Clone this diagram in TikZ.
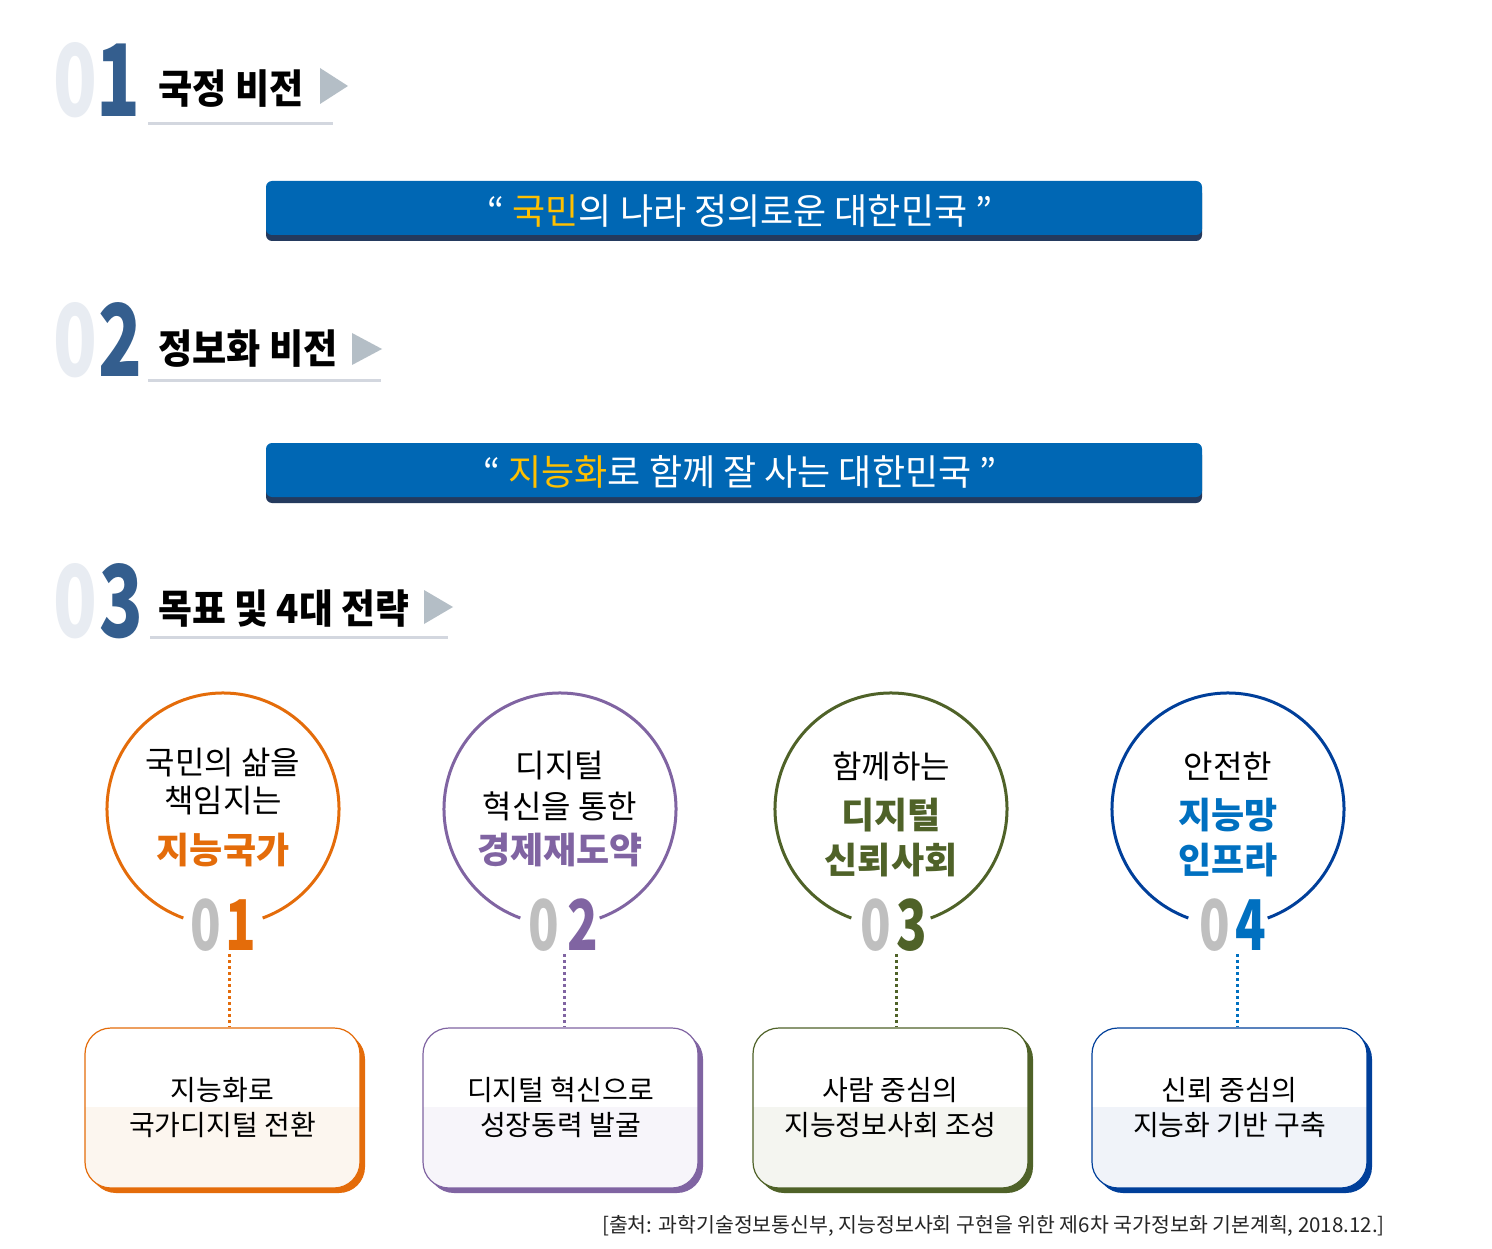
\documentclass[tikz,border=0pt]{standalone}
\usepackage{fontspec}
\setmainfont{Noto Sans CJK KR}
\definecolor{numlight}{HTML}{E8ECF2}
\definecolor{numdark}{HTML}{345E8E}
\definecolor{trigc}{HTML}{B4BEC6}
\definecolor{ulc}{HTML}{D3D7DF}
\definecolor{bblue}{HTML}{0067B4}
\definecolor{bdark}{HTML}{243A5E}
\definecolor{ylw}{HTML}{FFC000}
\definecolor{cOr}{HTML}{E46C0A}
\definecolor{cPu}{HTML}{8064A2}
\definecolor{cGr}{HTML}{4F6228}
\definecolor{cBl}{HTML}{003F9A}
\definecolor{cBt}{HTML}{0070C0}
\definecolor{tOr}{HTML}{FCF6EF}
\definecolor{tPu}{HTML}{F7F5FA}
\definecolor{tGr}{HTML}{F4F5F0}
\definecolor{tBl}{HTML}{F0F3F9}
\definecolor{zgray}{HTML}{BFBFBF}
\newcommand\cnd[2][0.8]{\scalebox{#1}[1]{#2}}
\tikzset{
  bignum/.style={inner sep=0pt, anchor=base, font=\bfseries\fontsize{100}{100}\selectfont},
  cnum/.style={inner sep=0pt, anchor=base, font=\bfseries\fontsize{70}{70}\selectfont},
  title/.style={inner sep=0pt, anchor=west, font=\bfseries\fontsize{40}{40}\selectfont, text=black},
  trig/.style={fill=trigc},
  uline/.style={draw=ulc, line width=3pt},
  bannertext/.style={inner sep=0pt, text=white, font=\fontsize{36}{36}\selectfont},
  ctext/.style={inner sep=0pt, text=black, font=\fontsize{32}{32}\selectfont},
  cbold/.style={inner sep=0pt, font=\bfseries\fontsize{36}{36}\selectfont},
  ring/.style={line width=3pt},
  dotline/.style={line width=3pt, dash pattern=on 3pt off 3pt},
  boxtext/.style={inner sep=0pt, align=center, text=black, font=\fontsize{28}{35}\selectfont},
}
\begin{document}
\begin{tikzpicture}[x=1pt,y=-1pt]
\useasboundingbox (0,0) rectangle (1492,1249);
\fill[white] (0,0) rectangle (1492,1249);

% ---------- header 01
\node[bignum, text=numlight] (h1a) at (75,117) {\cnd[0.72]{0}};
\node[bignum, text=numdark] (h1b) at (118,117) {\cnd[0.72]{1}};
\node[title] (t1) at (158,89) {\cnd[0.93]{국정 비전}};
\fill[trig] (320,68) -- (348,86) -- (320,104) -- cycle;
\draw[uline] (148,124) -- (333,124);

% ---------- banner 1
\fill[bdark, rounded corners=6pt] (266,187) rectangle (1202,241);
\fill[bblue, rounded corners=6pt] (266,181) rectangle (1202,235);
\node[bannertext] (b1) at (740,211) {“ \textcolor{ylw}{국민}의 나라 정의로운 대한민국 ”};

% ---------- header 02
\node[bignum, text=numlight] (h2a) at (75,377) {\cnd[0.72]{0}};
\node[bignum, text=numdark] (h2b) at (120,377) {\cnd[0.72]{2}};
\node[title] (t2) at (158,349) {\cnd[0.93]{정보화 비전}};
\fill[trig] (352,333) -- (382,349) -- (352,365) -- cycle;
\draw[uline] (148,381) -- (381,381);

% ---------- banner 2
\fill[bdark, rounded corners=6pt] (266,449) rectangle (1202,503);
\fill[bblue, rounded corners=6pt] (266,443) rectangle (1202,497);
\node[bannertext] (b2) at (740,472) {“ \textcolor{ylw}{지능화}로 함께 잘 사는 대한민국 ”};

% ---------- header 03
\node[bignum, text=numlight] (h3a) at (75,637) {\cnd[0.72]{0}};
\node[bignum, text=numdark] (h3b) at (121,637) {\cnd[0.72]{3}};
\node[title] (t3) at (158,609) {\cnd[0.92]{목표 및 4대 전략}};
\fill[trig] (424,590) -- (453,607) -- (424,624) -- cycle;
\draw[uline] (150,637) -- (448,637);

% ---------- circles
\coordinate (c1) at (223,809);
\coordinate (c2) at (560,809);
\coordinate (c3) at (891,809);
\coordinate (c4) at (1228,809);
\draw[ring, cOr] (c1) ++(110:116) arc[start angle=110, end angle=430, radius=116];
\draw[ring, cPu] (c2) ++(110:116) arc[start angle=110, end angle=430, radius=116];
\draw[ring, cGr] (c3) ++(110:116) arc[start angle=110, end angle=430, radius=116];
\draw[ring, cBl] (c4) ++(110:116) arc[start angle=110, end angle=430, radius=116];

\node[ctext] (l11) at (223,763) {국민의 삶을};
\node[ctext] (l12) at (223,801) {책임지는};
\node[cbold, text=cOr] (l13) at (223,850) {지능국가};

\node[ctext] (l21) at (560,766) {디지털};
\node[ctext] (l22) at (560,806) {혁신을 통한};
\node[cbold, text=cPu] (l23) at (560,850) {경제재도약};

\node[ctext] (l31) at (891,766) {함께하는};
\node[cbold, text=cGr] (l32) at (891,815) {디지털};
\node[cbold, text=cGr] (l33) at (891,860) {신뢰사회};

\node[ctext] (l41) at (1228,766) {안전한};
\node[cbold, text=cBt] (l42) at (1228,815) {지능망};
\node[cbold, text=cBt] (l43) at (1228,860) {인프라};

% numbers
\node[cnum, text=zgray] (n1a) at (206,950) {\cnd[0.72]{0}};
\node[cnum, text=cOr] (n1b) at (241,950) {\cnd[0.72]{1}};
\node[cnum, text=zgray] (n2a) at (544,950) {\cnd[0.72]{0}};
\node[cnum, text=cPu] (n2b) at (583,950) {\cnd[0.72]{2}};
\node[cnum, text=zgray] (n3a) at (876,950) {\cnd[0.72]{0}};
\node[cnum, text=cGr] (n3b) at (912,950) {\cnd[0.72]{3}};
\node[cnum, text=zgray] (n4a) at (1215,950) {\cnd[0.72]{0}};
\node[cnum, text=cBt] (n4b) at (1251,950) {\cnd[0.72]{4}};

% ---------- boxes
\foreach \xa/\xb/\col/\tin in {85/360/cOr/tOr, 423/698/cPu/tPu, 753/1028/cGr/tGr, 1092/1367/cBl/tBl}{
  \fill[\col, rounded corners=26pt] (\xa+5,1033) rectangle (\xb+5,1193);
  \begin{scope}
    \clip[rounded corners=26pt] (\xa,1028) rectangle (\xb,1188);
    \fill[white] (\xa,1028) rectangle (\xb,1107);
    \fill[\tin] (\xa,1107) rectangle (\xb,1188);
  \end{scope}
  \draw[\col, line width=1.2pt, rounded corners=26pt] (\xa,1028) rectangle (\xb,1188);
}
\node[boxtext] (bt1) at (222.5,1107.5) {지능화로\\국가디지털 전환};
\node[boxtext] (bt2) at (560.5,1107.5) {디지털 혁신으로\\성장동력 발굴};
\node[boxtext] (bt3) at (890.5,1107.5) {사람 중심의\\지능정보사회 조성};
\node[boxtext] (bt4) at (1229.5,1107.5) {신뢰 중심의\\지능화 기반 구축};

\coordinate (e1) at (229,1027);
\coordinate (e2) at (564,1027);
\coordinate (e3) at (896,1027);
\coordinate (e4) at (1237,1027);
\draw[dotline, cOr] (e1 |- n1a.base) ++(0,4) -- (e1);
\draw[dotline, cPu] (e2 |- n2a.base) ++(0,4) -- (e2);
\draw[dotline, cGr] (e3 |- n3a.base) ++(0,4) -- (e3);
\draw[dotline, cBt] (e4 |- n4a.base) ++(0,4) -- (e4);

% ---------- source
\node[inner sep=0pt, anchor=east, text=black!85, font=\fontsize{20.5}{20.5}\selectfont] (src) at (1385,1226)
  {[출처: 과학기술정보통신부, 지능정보사회 구현을 위한 제6차 국가정보화 기본계획, 2018.12.]};
\end{tikzpicture}
\end{document}
